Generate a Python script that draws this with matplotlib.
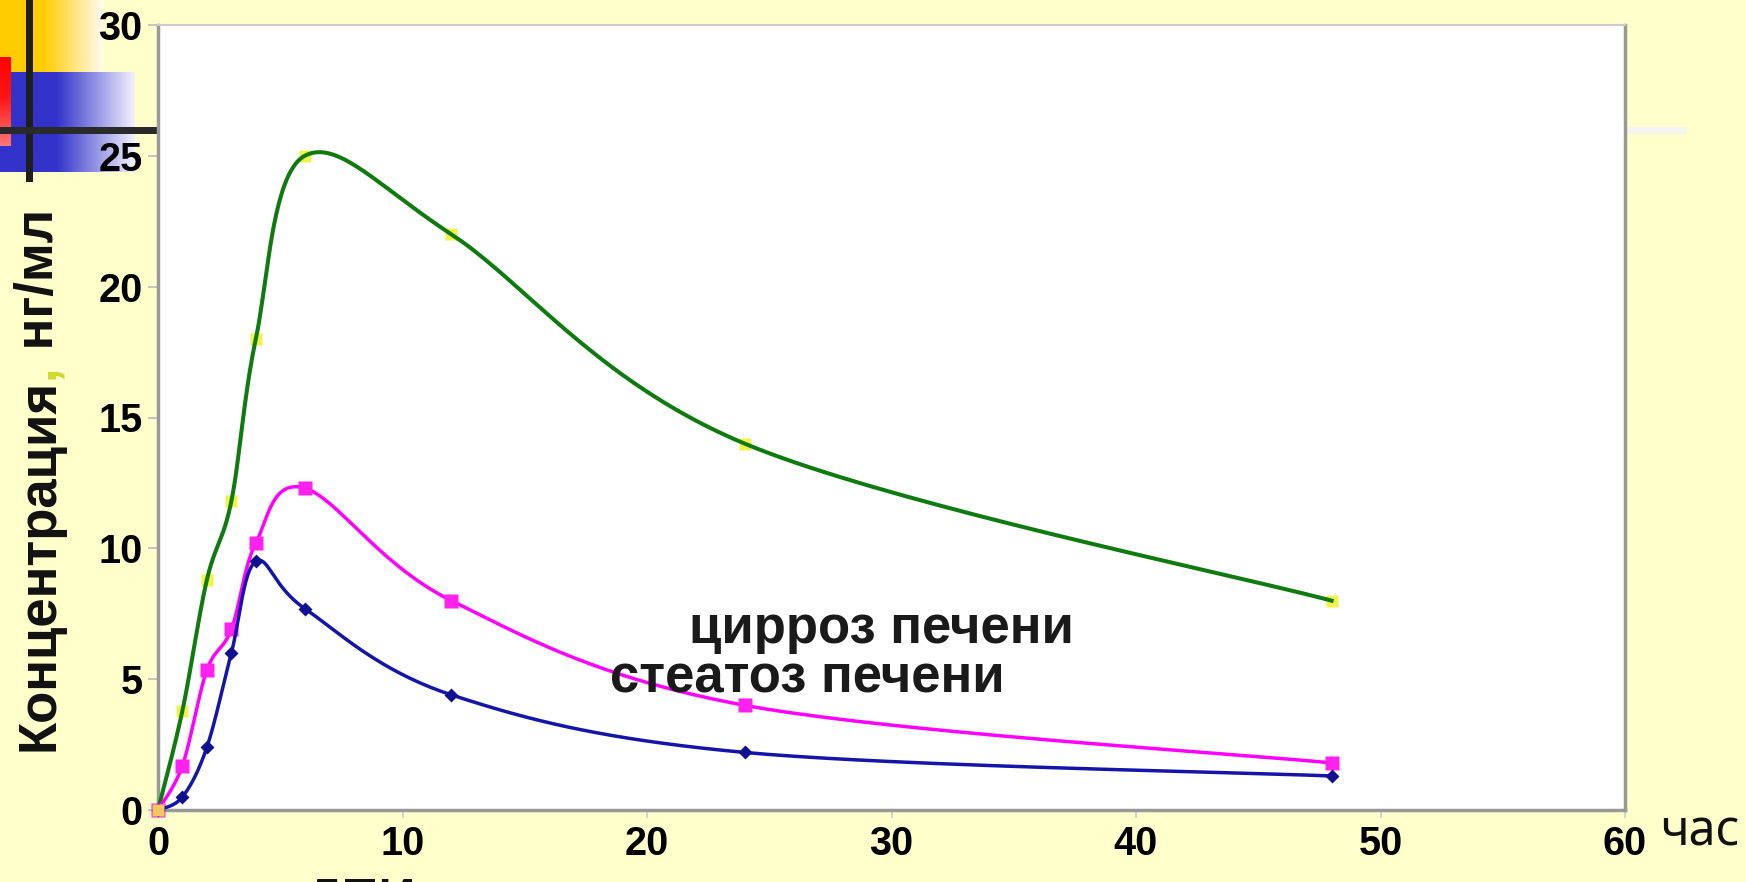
import numpy as np
import matplotlib
matplotlib.use("Agg")
import matplotlib.pyplot as plt
from matplotlib.colors import LinearSegmentedColormap

# ---------------- data ----------------
hours = [0, 1, 2, 3, 4, 6, 12, 24, 48]
green_conc = [0, 3.8, 8.8, 11.8, 18.0, 25.0, 22.0, 14.0, 8.0]
magenta_conc = [0, 1.7, 5.35, 6.9, 10.2, 12.3, 8.0, 4.0, 1.8]
blue_conc = [0, 0.5, 2.4, 6.0, 9.5, 7.7, 4.4, 2.2, 1.3]
x_ticks = [0, 10, 20, 30, 40, 50, 60]
y_ticks = [0, 5, 10, 15, 20, 25, 30]
label_cirrhosis = "цирроз печени"
label_steatosis = "стеатоз печени"
x_unit = "час"
y_label_parts = ["Концентрация", ",", " нг/мл"]

W, H = 1746, 882
BG = "#FFFFCC"


def smooth(xs, ys, n=40):
    """Excel-style smoothed line (cardinal Bezier through points)."""
    P = np.column_stack([xs, ys]).astype(float)
    out = []
    for i in range(len(P) - 1):
        p0 = P[i - 1] if i > 0 else P[i]
        p1 = P[i]
        p2 = P[i + 1]
        p3 = P[i + 2] if i + 2 < len(P) else P[i + 1]
        c1 = p1 + (p2 - p0) / 6.0
        c2 = p2 - (p3 - p1) / 6.0
        t = np.linspace(0, 1, n)[:, None]
        seg = ((1 - t) ** 3) * p1 + 3 * ((1 - t) ** 2) * t * c1 + 3 * (1 - t) * t ** 2 * c2 + t ** 3 * p2
        out.append(seg if i == 0 else seg[1:])
    a = np.vstack(out)
    return a[:, 0], a[:, 1]


fig = plt.figure(figsize=(W / 100, H / 100), dpi=100, facecolor=BG)

# background / decoration axes in pixel coordinates
bg = fig.add_axes([0, 0, 1, 1], zorder=0)
bg.set_xlim(0, W)
bg.set_ylim(H, 0)
bg.axis("off")

# yellow gradient rectangle
ycm = LinearSegmentedColormap.from_list("y", [(0, "#FFCC00"), (0.42, "#FFCC00"), (1, "#FFFBEF")])
bg.imshow(np.linspace(0, 1, 256)[None, :], cmap=ycm, extent=(0, 103, 72, 0), aspect="auto", zorder=1)
# blue gradient rectangle
bcm = LinearSegmentedColormap.from_list("b", [(0, "#3333CC"), (0.42, "#3333CC"), (1, "#F2F2FC")])
bg.imshow(np.linspace(0, 1, 256)[None, :], cmap=bcm, extent=(0, 135, 172, 72), aspect="auto", zorder=2)
# red gradient rectangle
rcm = LinearSegmentedColormap.from_list("r", [(0, "#FF0000"), (0.45, "#FF1515"), (1, "#FF7777")])
bg.imshow(np.linspace(0, 1, 256)[:, None], cmap=rcm, extent=(0, 11, 146, 57), aspect="auto", zorder=3)
# black cross lines
bg.fill_between([26, 33], [0, 0], [182, 182], color="#1E1E1E", lw=0, zorder=4)
bg.fill_between([0, 158], [127, 127], [134, 134], color="#2A2A2A", lw=0, zorder=4)
bg.fill_between([1627, 1687], [127, 127], [134, 134], color="#F4F4F0", lw=0, zorder=4)

# main axes
ax = fig.add_axes([158 / W, 1 - 810 / H, (1625 - 158) / W, (810 - 25) / H], zorder=2)
ax.set_facecolor("white")
ax.set_xlim(0, 60)
ax.set_ylim(0, 30)
ax.set_xticks(x_ticks)
ax.set_yticks(y_ticks)
tick_font = dict(family="Liberation Sans", weight="bold", size=28.5)
ax.set_xticklabels([str(v) for v in x_ticks], fontdict=tick_font)
ax.set_yticklabels([str(v) for v in y_ticks], fontdict=tick_font)
ax.tick_params(axis="y", direction="out", length=7, width=1.2, color="#BBBBBB", pad=4)
ax.tick_params(axis="x", direction="out", length=6, width=1.2, color="#CCCCCC", pad=5)
for s in ["left", "bottom", "right"]:
    ax.spines[s].set_color("#999999")
    ax.spines[s].set_linewidth(2.5)
ax.spines["top"].set_color("#CCCCCC")
ax.spines["top"].set_linewidth(1.5)

# series
gx, gy = smooth(hours, green_conc)
ax.plot(hours, green_conc, linestyle="none", marker="s", ms=9, color="#EEF020", alpha=0.8,
        mec="none", zorder=3, clip_on=False)
ax.plot(gx, gy, color="#0F7A0F", lw=2.9, zorder=4, clip_on=False)

mx, my = smooth(hours, magenta_conc)
ax.plot(mx, my, color="#FF00FF", lw=2.5, zorder=5, clip_on=False)
ax.plot(hours, magenta_conc, linestyle="none", marker="s", ms=10, color="#FF22EE", mec="none",
        zorder=5, clip_on=False)

bx, by = smooth(hours, blue_conc)
ax.plot(bx, by, color="#1414A8", lw=2.5, zorder=6, clip_on=False)
ax.plot(hours, blue_conc, linestyle="none", marker="D", ms=7.5, color="#101090", mec="none",
        zorder=6, clip_on=False)

# origin marker
ax.plot([0], [0], marker="s", ms=9, color="#F2C85A", mec="none", zorder=7, clip_on=False)

ann_font = dict(family="Liberation Sans", weight="bold", size=38)
ax.text(21.7, 6.38, label_cirrhosis, color="#1A1A1A", va="baseline", ha="left", zorder=8, **ann_font)
ax.text(18.5, 4.5, label_steatosis, color="#1A1A1A", va="baseline", ha="left", zorder=8, **ann_font)

# x unit label
bg.text(1660, 846, x_unit, family="Noto Sans", size=35, color="#111111", va="baseline", ha="left", zorder=5)

# partly hidden text at the bottom
bg.text(305, 878 + 37, "ДПИ", family="Liberation Sans", weight="bold", size=37, color="#111111",
        va="baseline", ha="left", zorder=5)

# y label with coloured comma
fig.canvas.draw()
renderer = fig.canvas.get_renderer()
ylab_font = dict(family="Liberation Sans", weight="bold", size=38)
colors = ["#111111", "#D0D830", "#111111"]
ypos = 751
for part, c in zip(y_label_parts, colors):
    t = bg.text(53, ypos, part, rotation=90, rotation_mode="anchor", ha="left", va="baseline",
                color=c, zorder=5, **ylab_font)
    ext = t.get_window_extent(renderer=renderer)
    ypos -= ext.height

fig.savefig("out.png", dpi=100, facecolor=BG)
